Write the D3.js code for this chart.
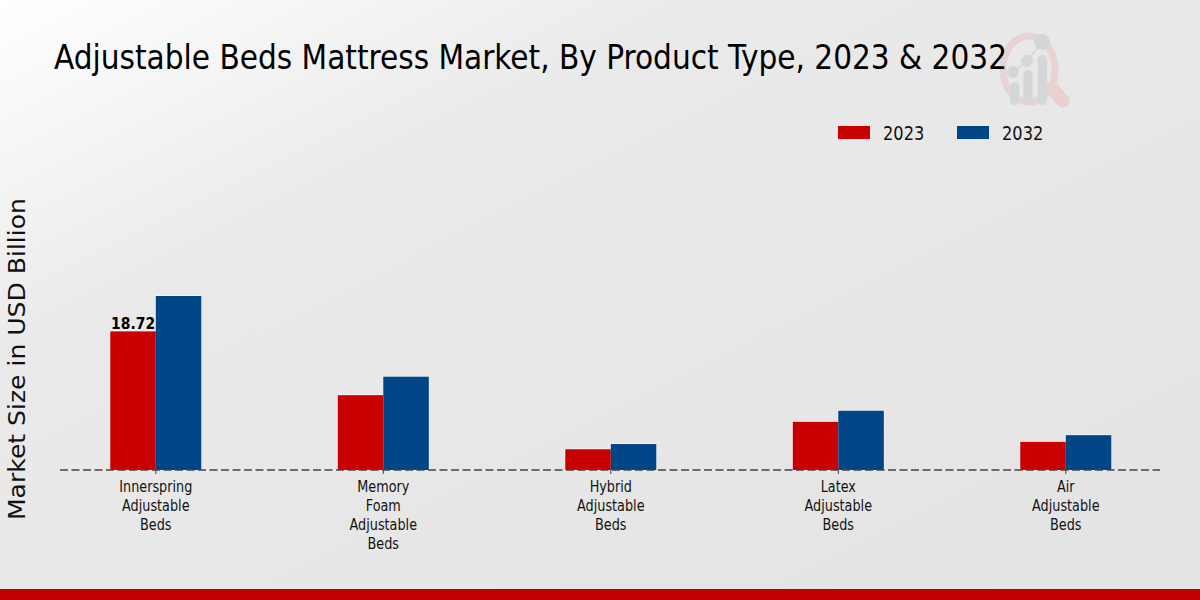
<!DOCTYPE html>
<html>
<head>
<meta charset="utf-8">
<script src="https://cdn.jsdelivr.net/npm/d3@7"></script>
<style>
  html, body { margin: 0; padding: 0; background: #e6e6e6; }
  svg { display: block; }
  text { font-family: "DejaVu Sans", sans-serif; fill: #111; }
  .cond { font-family: "DejaVu Sans Condensed", "DejaVu Sans", sans-serif; }
</style>
</head>
<body>
<script>
const categories = [
  "Innerspring Adjustable Beds",
  "Memory Foam Adjustable Beds",
  "Hybrid Adjustable Beds",
  "Latex Adjustable Beds",
  "Air Adjustable Beds"
];
const years = ["2023", "2032"];
const values2023 = [18.72, 10.1, 2.8, 6.5, 3.8];
const values2032 = [23.5, 12.6, 3.5, 8.0, 4.7];
const colors = ["#c80000", "#004687"];

const width = 1200, height = 600;
const baseline = 470;

const svg = d3.select("body").append("svg")
  .attr("width", width)
  .attr("height", height);

// background
const grad = svg.append("defs").append("linearGradient")
  .attr("id", "bg")
  .attr("x1", "0%").attr("y1", "0%")
  .attr("x2", "100%").attr("y2", "100%");
grad.append("stop").attr("offset", "0%").attr("stop-color", "#ffffff");
grad.append("stop").attr("offset", "30%").attr("stop-color", "#eaeaea");
grad.append("stop").attr("offset", "100%").attr("stop-color", "#e3e3e3");
svg.append("rect").attr("width", width).attr("height", height).attr("fill", "url(#bg)");

// logo watermark
const logo = svg.append("g").attr("fill", "none");
logo.append("line").attr("x1", 1052).attr("y1", 88).attr("x2", 1063).attr("y2", 101)
  .attr("stroke", "#eccfcf").attr("stroke-width", 13).attr("stroke-linecap", "round");
logo.append("ellipse").attr("cx", 1029).attr("cy", 69).attr("rx", 26).attr("ry", 33)
  .attr("stroke", "#e8d3d3").attr("stroke-width", 7);
logo.append("polyline").attr("points", "1013,72 1027,61 1042,42")
  .attr("stroke", "#d5d6d8").attr("stroke-width", 1.5);
[[1014.5, 1013, 72, 6, 82], [1028, 1027, 61, 6, 70], [1042.5, 1042, 42, 8, 55]].forEach(([bx, cx, cy, r, top]) => {
  logo.append("circle").attr("cx", cx).attr("cy", cy).attr("r", r).attr("fill", "#d5d6d8");
  logo.append("rect").attr("x", bx - 4.7).attr("y", top).attr("width", 9.4).attr("height", 105 - top)
    .attr("rx", 4.7).attr("fill", "#d5d6d8");
});

// scales
const x = d3.scaleBand().domain(categories).range([42.05, 1179.55]);
const xSub = d3.scaleBand().domain(years).range([x.bandwidth() * 0.3, x.bandwidth() * 0.7]);
const y = d3.scaleLinear().domain([0, 23.5]).range([baseline, 296]);

// bars: white edge first, then the fills on top so it only shows on the outside
const series = [values2023, values2032];
["edge", "fill"].forEach(pass => {
  years.forEach((yr, s) => {
    svg.append("g").selectAll("rect")
      .data(series[s])
      .join("rect")
      .attr("x", (d, i) => x(categories[i]) + xSub(yr))
      .attr("y", d => y(d))
      .attr("width", xSub.bandwidth())
      .attr("height", d => y(0) - y(d))
      .attr("fill", colors[s])
      .attr("stroke", pass == "edge" ? "#ffffff" : "none")
      .attr("stroke-width", 1);
  });
});

// x axis, dashed baseline
const axis = svg.append("g")
  .attr("transform", `translate(0,${baseline})`)
  .call(d3.axisBottom(x).tickSize(4).tickFormat(""));
axis.select(".domain").remove();
axis.selectAll(".tick line").attr("stroke", "#444");
svg.append("line")
  .attr("x1", 60).attr("x2", 1160)
  .attr("y1", baseline).attr("y2", baseline)
  .attr("stroke", "#444").attr("stroke-width", 1.3)
  .attr("stroke-dasharray", "8 3.5");

axis.selectAll(".tick").each(function (d) {
  const t = d3.select(this).append("text")
    .attr("class", "cond")
    .attr("text-anchor", "middle")
    .attr("font-size", 15)
    .attr("transform", "scale(0.95,1)")
    .style("fill", "#111");
  d.split(" ").forEach((w, i) => {
    t.append("tspan").attr("x", 0).attr("y", 22.5 + i * 19).text(w);
  });
});

// value label
svg.append("text")
  .attr("x", x(categories[0]) + xSub(years[0]) + xSub.bandwidth() / 2)
  .attr("y", y(values2023[0]) - 2.5)
  .attr("text-anchor", "middle")
  .attr("font-size", 15.5)
  .attr("font-weight", "bold")
  .attr("class", "cond")
  .style("fill", "#000")
  .text(values2023[0]);

// title
svg.append("text")
  .attr("class", "cond")
  .attr("x", 54).attr("y", 69)
  .attr("font-size", 33.5)
  .attr("textLength", 953)
  .attr("lengthAdjust", "spacingAndGlyphs")
  .style("fill", "#000")
  .text("Adjustable Beds Mattress Market, By Product Type, 2023 & 2032");

// y title
svg.append("text")
  .attr("transform", "translate(25,520) rotate(-90)")
  .attr("font-size", 23.5)
  .attr("textLength", 322)
  .attr("lengthAdjust", "spacingAndGlyphs")
  .text("Market Size in USD Billion");

// legend
const legendX = [838, 957];
years.forEach((yr, i) => {
  svg.append("rect")
    .attr("x", legendX[i]).attr("y", 126)
    .attr("width", 32).attr("height", 13)
    .attr("fill", colors[i]);
  svg.append("text")
    .attr("class", "cond")
    .attr("transform", `translate(${legendX[i] + 45},140) scale(0.95,1)`)
    .attr("font-size", 19)
    .text(yr);
});

// footer band
svg.append("rect").attr("x", 0).attr("y", 589).attr("width", width).attr("height", 11).attr("fill", "#c00000");
</script>
</body>
</html>
